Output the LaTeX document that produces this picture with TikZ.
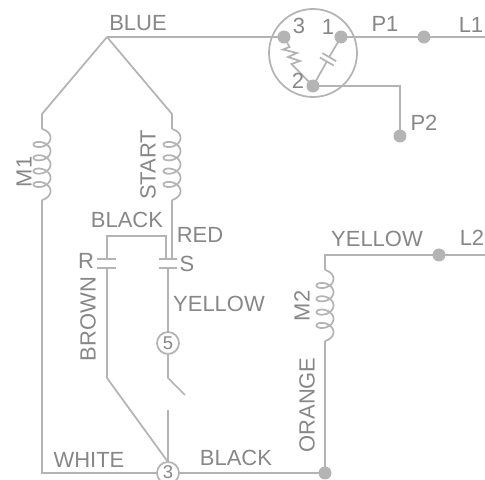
\documentclass[tikz,border=0pt]{standalone}
\usepackage{fontspec}
\setmainfont{Liberation Sans}
\usepackage{xcolor}
\usetikzlibrary{positioning, decorations.pathmorphing}
\definecolor{wiregray}{RGB}{180,180,180}
\definecolor{textgray}{RGB}{135,135,135}
\tikzset{
    wire/.style={draw=wiregray, line width=1pt},
    wirelabel/.style={text=textgray, font=\fontsize{12.5}{14}\selectfont, inner sep=0pt},
    dot/.style={circle, fill=wiregray, inner sep=0pt, minimum size=7.4pt},
    terminal/.style={circle, wire, fill=white, inner sep=0pt, minimum size=12.5pt, text=textgray, font=\fontsize{10.5}{12}\selectfont},
    coil/.pic={\draw[wire] plot[smooth, domain=0:1620, samples=170] ({8.5*sin(\x)},{2.12*rad(\x)+5.5*(1-cos(\x))});}
}
\begin{document}
\begin{tikzpicture}[x=0.02cm, y=-0.02cm]
        \useasboundingbox (0,0) rectangle (485,480);
        \clip (0,0) rectangle (485,480);

        % Coordinates
        \coordinate (apex) at (107,37);
        \coordinate (T3) at (284,37);
        \coordinate (T1) at (341,37);
        \coordinate (T2) at (313,86);
        \coordinate (P1) at (424,37);
        \coordinate (L1) at (485,37);
        \coordinate (P2) at (400,136);
        \coordinate (L2dot) at (439,255);
        \coordinate (L2) at (485,255);
        \coordinate (M2corner) at (325,255);
        \coordinate (common) at (325,473);
        \coordinate (N3) at (168,473);
        \coordinate (N5) at (168,343);
        \coordinate (leftbase) at (42,473);
        \coordinate (Rpivot) at (107,378);
        \coordinate (Spivot) at (168,378);

        % Overload
        \draw[wiregray, line width=1pt] (313,53) circle (44);
        \draw[wire] (T3) -- (289.5,47) -- (283,49.5) -- (297,53) -- (288,57) -- (300,61) -- (291.5,64) -- (T2);
        \draw[wire] (T1) -- (329.2,57.1);
        \draw[wire] (322.3,53.1) -- (336.1,61.1);
        \draw[wire] (319.9,57.5) -- (333.7,65.5);
        \draw[wire] (326.8,61.5) -- (T2);

        % Line side
        \draw[wire] (apex) -- (T3);
        \draw[wire] (T1) -- (L1);
        \draw[wire] (T2) -| (P2);

        % Main winding
        \draw[wire] (apex) -- (42,114) -- (42,129);
        \pic at (42,129) {coil};
        \draw[wire] (42,200) -- (leftbase) -- (common);

        % Start winding
        \draw[wire] (apex) -- (172,114) -- (172,129);
        \pic at (172,129) {coil};
        \draw[wire] (172,200) -- (172,259);

        % Contacts
        \draw[wire] (97,259) -- (116,259);
        \draw[wire] (97,268) -- (116,268);
        \draw[wire] (159,259) -- (177,259);
        \draw[wire] (159,268) -- (177,268);
        \draw[wire] (107,259) |- (166,236) -- (166,259);
        \draw[wire] (107,268) -- (Rpivot) -- (168,462);
        \draw[wire] (168,268) -- (N5) -- (Spivot) -- (185,395);
        \draw[wire] (168,410) -- (N3);

        % Fan motor
        \draw[wire] (L2) -- (M2corner) -- (325,270);
        \pic at (325,270) {coil};
        \draw[wire] (325,341) -- (common);

        % Dots and terminals
        \foreach \name in {T3, T1, T2, P1, P2, L2dot, common}
            \node[dot] (dot\name) at (\name) {};
        \node[terminal] (term5) at (N5) {5};
        \draw[wire, fill=white] (N3) circle (11);
        \node[wirelabel, font=\fontsize{10.5}{12}\selectfont] (term3) at (168,472.5) {3};

        % Labels
        \node[wirelabel] (blue) at (138,23) {BLUE};
        \node[wirelabel] (p1label) at (385,24) {P1};
        \node[wirelabel] (l1label) at (471,25) {L1};
        \node[wirelabel] (p2label) at (424,123) {P2};
        \node[wirelabel] (n3label) at (299,26) {3};
        \node[wirelabel] (n1label) at (328,27) {1};
        \node[wirelabel] (n2label) at (298,81) {2};
        \node[wirelabel, rotate=90] (m1label) at (24,172) {M1};
        \node[wirelabel, rotate=90] (startlabel) at (148,165) {START};
        \node[wirelabel] (blacktop) at (127,220) {BLACK};
        \node[wirelabel] (red) at (200,235) {RED};
        \node[wirelabel] (slabel) at (187,264) {S};
        \node[wirelabel] (rlabel) at (86,261) {R};
        \node[wirelabel, rotate=90] (brown) at (88,319) {BROWN};
        \node[wirelabel] (yellowlow) at (219,304) {YELLOW};
        \node[wirelabel, rotate=90] (m2label) at (302,306) {M2};
        \node[wirelabel, rotate=90] (orange) at (307,405) {ORANGE};
        \node[wirelabel] (white) at (89,460) {WHITE};
        \node[wirelabel] (blackbase) at (236,458) {BLACK};
        \node[wirelabel] (yellowtop) at (377,239) {YELLOW};
        \node[wirelabel] (l2label) at (472,238) {L2};
\end{tikzpicture}
\end{document}
